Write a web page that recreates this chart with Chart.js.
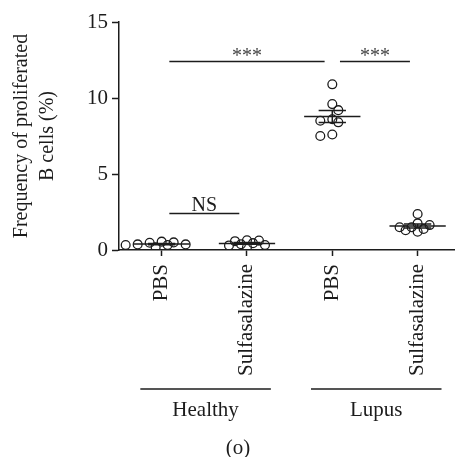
<!DOCTYPE html>
<html>
<head>
<meta charset="utf-8">
<script src="https://cdn.jsdelivr.net/npm/chart.js@4.4.1/dist/chart.umd.min.js"></script>
<style>
  html, body { margin: 0; padding: 0; background: #fff; }
  #wrap { width: 460px; height: 457px; }
</style>
</head>
<body>
<div id="wrap"><canvas id="c" width="460" height="457"></canvas></div>
<script>
// Treatment groups along the x axis
const categories = ['PBS', 'Sulfasalazine', 'PBS', 'Sulfasalazine'];
// Mouse groups spanning pairs of categories
const groupNames = ['Healthy', 'Lupus'];
const groupSpans = [[0, 1], [2, 3]];

// Frequency of proliferated B cells (%) per animal
const healthyPBS = [0.50, 0.33, 0.37, 0.18, 0.55, 0.33, 0.37, 0.48];
const healthySulfasalazine = [0.62, 0.33, 0.45, 0.18, 0.64, 0.38, 0.30, 0.58];
const lupusPBS = [10.9, 9.6, 9.2, 8.6, 8.4, 8.5, 7.5, 7.6];
const lupusSulfasalazine = [2.37, 1.75, 1.64, 1.38, 1.50, 1.20, 1.50, 1.30];
const seriesValues = [healthyPBS, healthySulfasalazine, lupusPBS, lupusSulfasalazine];

const yTicks = [0, 5, 10, 15];

// Pairwise comparisons: category indices, bar height (%), label
const compA = [0, 2, 0];
const compB = [2, 3, 1];
const compY = [12.4, 12.4, 2.4];
const compText = ['***', '***', 'NS'];

const panelLabel = '(o)';

const FONT = "'Liberation Serif', 'DejaVu Serif', 'Times New Roman', serif";
const INK = '#1c1c1c';

function mean(a) { return a.reduce((s, v) => s + v, 0) / a.length; }
function sem(a) {
  const m = mean(a);
  const sd = Math.sqrt(a.reduce((s, v) => s + (v - m) * (v - m), 0) / (a.length - 1));
  return sd / Math.sqrt(a.length);
}

// Scatter-dot spreading: place each point as close to the column centre as it fits,
// choosing the emptier side when both sides are free
function swarmOffsets(values, yScale, step, minDist) {
  const order = values.map((v, i) => i).sort((a, b) => values[b] - values[a]);
  const placed = [];
  const offs = new Array(values.length).fill(0);
  const free = (dx, py) => placed.every(p => Math.hypot(p.dx - dx, p.py - py) >= minDist);
  for (const i of order) {
    const py = yScale.getPixelForValue(values[i]);
    if (free(0, py)) { placed.push({ dx: 0, py }); continue; }
    for (let k = 1; k < 40; k++) {
      const r = free(k * step, py), l = free(-k * step, py);
      if (!r && !l) continue;
      let dx;
      if (r && l) {
        const nr = placed.filter(p => p.dx > 0).length, nl = placed.filter(p => p.dx < 0).length;
        dx = nr <= nl ? k * step : -k * step;
      } else {
        dx = r ? k * step : -k * step;
      }
      placed.push({ dx, py });
      offs[i] = dx;
      break;
    }
  }
  return offs;
}

// Mean line with SEM whiskers for every column
const meanSemPlugin = {
  id: 'meanSem',
  afterDatasetsDraw(chart) {
    const { ctx, scales: { x, y } } = chart;
    ctx.save();
    ctx.strokeStyle = INK;
    ctx.lineWidth = 1.5;
    seriesValues.forEach((vals, i) => {
      const m = mean(vals), e = sem(vals);
      const ym = y.getPixelForValue(m), yt = y.getPixelForValue(m + e), yb = y.getPixelForValue(m - e);
      ctx.beginPath();
      ctx.moveTo(x.getPixelForValue(i - 0.33), ym); ctx.lineTo(x.getPixelForValue(i + 0.33), ym);
      ctx.moveTo(x.getPixelForValue(i), yt); ctx.lineTo(x.getPixelForValue(i), yb);
      ctx.moveTo(x.getPixelForValue(i - 0.16), yt); ctx.lineTo(x.getPixelForValue(i + 0.16), yt);
      ctx.moveTo(x.getPixelForValue(i - 0.16), yb); ctx.lineTo(x.getPixelForValue(i + 0.16), yb);
      ctx.stroke();
    });
    ctx.restore();
  }
};

// Significance bars, group brackets under the axis and the panel letter
const annotationPlugin = {
  id: 'annotations',
  afterDraw(chart) {
    const { ctx, chartArea, scales: { x, y } } = chart;
    ctx.save();
    ctx.strokeStyle = INK;
    ctx.fillStyle = INK;
    ctx.lineWidth = 1.5;
    ctx.font = '20px ' + FONT;
    ctx.textAlign = 'center';
    ctx.textBaseline = 'alphabetic';
    compText.forEach((t, i) => {
      const x1 = x.getPixelForValue(compA[i] + 0.09);
      const x2 = x.getPixelForValue(compB[i] - 0.09);
      const yy = y.getPixelForValue(compY[i]);
      ctx.beginPath(); ctx.moveTo(x1, yy); ctx.lineTo(x2, yy); ctx.stroke();
      const mt = ctx.measureText(t);
      const inkMid = (mt.actualBoundingBoxAscent - mt.actualBoundingBoxDescent) / 2;
      ctx.fillStyle = t === 'NS' ? INK : '#444';
      ctx.fillText(t, (x1 + x2) / 2, yy - 10 + inkMid);
      ctx.fillStyle = INK;
    });

    ctx.font = '21px ' + FONT;
    ctx.textBaseline = 'middle';
    const lineY = chartArea.bottom + 139;
    groupNames.forEach((name, g) => {
      const x1 = x.getPixelForValue(groupSpans[g][0] - 0.25);
      const x2 = x.getPixelForValue(groupSpans[g][1] + 0.28);
      ctx.beginPath(); ctx.moveTo(x1, lineY); ctx.lineTo(x2, lineY); ctx.stroke();
      ctx.fillText(name, (x1 + x2) / 2, lineY + 21);
    });
    ctx.fillText(panelLabel, chart.width / 2 + 8, chartArea.bottom + 198);
    ctx.restore();
  }
};

const datasets = seriesValues.map((vals, i) => ({
  label: categories[i],
  data: vals.map(v => ({ x: i, y: v })),
  pointRadius: 4.4,
  pointHoverRadius: 4.4,
  pointBorderWidth: 1.3,
  borderColor: INK,
  backgroundColor: 'rgba(0,0,0,0)',
  showLine: false
}));

const chart = new Chart(document.getElementById('c'), {
  type: 'scatter',
  data: { datasets },
  options: {
    responsive: false,
    animation: false,
    devicePixelRatio: 1,
    layout: { padding: { top: 22, left: 0, right: 0, bottom: 0 } },
    plugins: { legend: { display: false }, tooltip: { enabled: false } },
    scales: {
      x: {
        type: 'linear',
        min: -0.5,
        max: 3.43,
        afterBuildTicks(scale) { scale.ticks = categories.map((c, i) => ({ value: i })); },
        afterFit(scale) { scale.height = 207; },
        grid: { display: true, drawOnChartArea: false, drawTicks: true, tickLength: 6, tickWidth: 1.5, tickColor: INK },
        border: { display: true, color: INK, width: 1.5 },
        ticks: {
          autoSkip: false,
          minRotation: 90,
          maxRotation: 90,
          padding: 8,
          color: INK,
          font: { family: FONT, size: 21 },
          callback: (v) => categories[v]
        }
      },
      y: {
        min: 0,
        max: 15,
        afterBuildTicks(scale) { scale.ticks = yTicks.map(v => ({ value: v })); },
        afterFit(scale) { scale.width = 119; },
        grid: { display: true, drawOnChartArea: false, drawTicks: true, tickLength: 7, tickWidth: 1.5, tickColor: INK },
        border: { display: true, color: INK, width: 1.5 },
        ticks: { padding: 4, color: INK, font: { family: FONT, size: 21 } },
        title: {
          display: true,
          text: ['Frequency of proliferated', 'B cells (%)'],
          color: INK,
          font: { family: FONT, size: 20, lineHeight: 1.3 },
          padding: { top: 9, bottom: 0 }
        }
      }
    }
  },
  plugins: [meanSemPlugin, annotationPlugin]
});

// Spread each column's points horizontally now that the scales are laid out
const xs = chart.scales.x, ys = chart.scales.y;
const unit = xs.getPixelForValue(1) - xs.getPixelForValue(0);
seriesValues.forEach((vals, i) => {
  const offs = swarmOffsets(vals, ys, 6, 6.5);
  chart.data.datasets[i].data = vals.map((v, k) => ({ x: i + offs[k] / unit, y: v }));
});
chart.update('none');
</script>
</body>
</html>
